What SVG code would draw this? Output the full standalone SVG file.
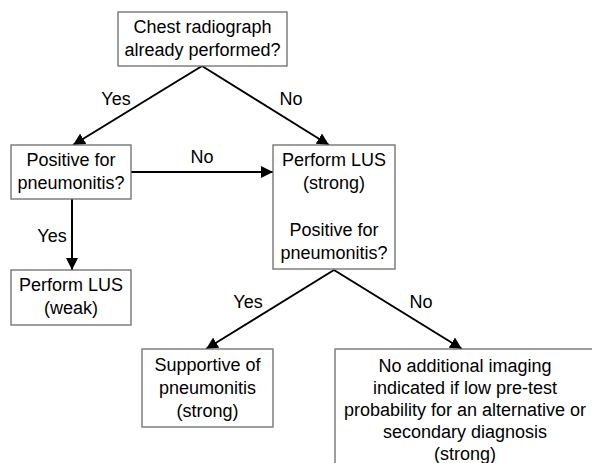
<svg xmlns="http://www.w3.org/2000/svg" width="592" height="463" viewBox="0 0 592 463">
<defs>
<style>
.box{fill:#fff;stroke:#6b6b6b;stroke-width:1.3}
text{font-family:"Liberation Sans",Arial,sans-serif;font-size:18px;fill:#000;text-anchor:middle}
.c{stroke:#000;stroke-width:2;fill:none;marker-end:url(#ah)}
</style>
<marker id="ah" viewBox="0 0 10 10" refX="10" refY="5" markerWidth="6" markerHeight="6" orient="auto" markerUnits="strokeWidth">
<path d="M0,0 L10,5 L0,10 z" fill="#000"/>
</marker>
</defs>
<rect width="592" height="463" fill="#fff"/>
<g id="connectors">
<line class="c" x1="202" y1="66" x2="73" y2="145"/>
<line class="c" x1="202" y1="66" x2="329" y2="145"/>
<line class="c" x1="131" y1="172" x2="273" y2="172"/>
<line class="c" x1="72" y1="199" x2="72" y2="270"/>
<line class="c" x1="334" y1="270" x2="206" y2="349"/>
<line class="c" x1="334" y1="270" x2="462" y2="349"/>
<text x="116" y="105">Yes</text>
<text x="291" y="105">No</text>
<text x="202" y="163">No</text>
<text x="52" y="242">Yes</text>
<text x="248" y="308">Yes</text>
<text x="421" y="308">No</text>
</g>
<g id="n1">
<rect class="box" x="118" y="12" width="169" height="54"/>
<text x="202.5" y="33">Chest radiograph</text>
<text x="202.5" y="56">already performed?</text>
</g>
<g id="n2">
<rect class="box" x="11" y="145" width="120" height="54"/>
<text x="71" y="166">Positive for</text>
<text x="71" y="189">pneumonitis?</text>
</g>
<g id="n3">
<rect class="box" x="273" y="145" width="122" height="124"/>
<text x="334" y="166">Perform LUS</text>
<text x="334" y="189">(strong)</text>
<text x="334" y="236">Positive for</text>
<text x="334" y="259">pneumonitis?</text>
</g>
<g id="n4">
<rect class="box" x="11" y="270" width="120" height="55"/>
<text x="71" y="291">Perform LUS</text>
<text x="71" y="314">(weak)</text>
</g>
<g id="n5">
<rect class="box" x="142" y="349" width="131" height="78"/>
<text x="207.5" y="371">Supportive of</text>
<text x="207.5" y="394">pneumonitis</text>
<text x="207.5" y="417">(strong)</text>
</g>
<g id="n6">
<rect class="box" x="335" y="349" width="262" height="125"/>
<text x="465" y="372">No additional imaging</text>
<text x="465" y="394">indicated if low pre-test</text>
<text x="465" y="416">probability for an alternative or</text>
<text x="465" y="438">secondary diagnosis</text>
<text x="465" y="460">(strong)</text>
</g>
</svg>
